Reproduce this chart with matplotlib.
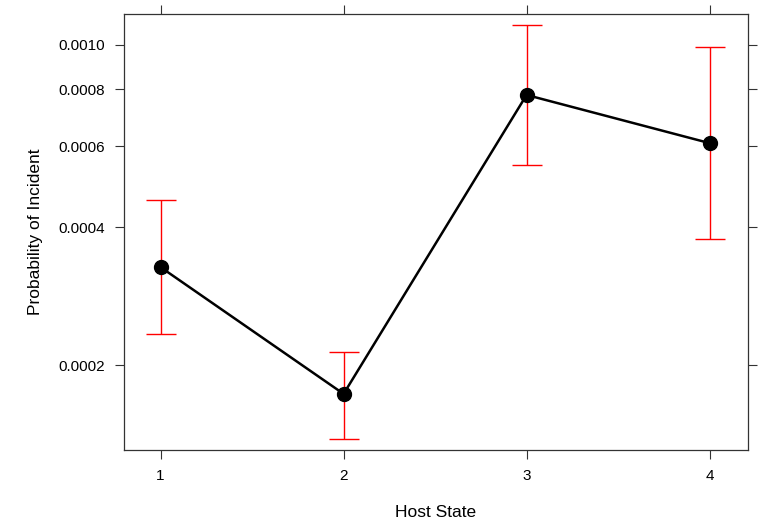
import numpy as np
import matplotlib.pyplot as plt
from matplotlib.ticker import FixedLocator, FixedFormatter, NullLocator

plt.rcParams['font.family'] = ['Liberation Sans', 'DejaVu Sans']

# ── Data ─────────────────────────────────────────────────────────────────────
host_state = [1, 2, 3, 4]
prob       = [0.000327, 0.000173, 0.000777, 0.000610]
upper      = [0.000458, 0.000213, 0.001104, 0.000989]
lower      = [0.000234, 0.000138, 0.000546, 0.000377]
y_ticks    = [0.0002, 0.0004, 0.0006, 0.0008, 0.0010]
y_labels   = ["0.0002", "0.0004", "0.0006", "0.0008", "0.0010"]

prob = np.array(prob)
yerr = [prob - np.array(lower), np.array(upper) - prob]

fig = plt.figure(figsize=(7.58, 5.21), dpi=100)
ax = fig.add_axes([0.1636, 0.1363, 0.8232, 0.8368])

ax.errorbar(host_state, prob, yerr=yerr, fmt="none", ecolor="#ff0000",
            elinewidth=1.0, capsize=11, capthick=1.0, zorder=2)
ax.plot(host_state, prob, color="black", lw=1.8, marker="o", ms=10,
        markeredgecolor="black", markerfacecolor="black", zorder=3)

ax.set_yscale("log")
ax.set_xlim(0.8, 4.21)
ax.set_ylim(0.0001305, 0.001167)

ax.yaxis.set_major_locator(FixedLocator(y_ticks))
ax.yaxis.set_major_formatter(FixedFormatter(y_labels))
ax.yaxis.set_minor_locator(NullLocator())
ax.set_xticks(host_state)
ax.set_xticklabels([str(h) for h in host_state])

ax.tick_params(axis="both", direction="out", length=6.5, width=0.8,
               colors="#333333", labelcolor="black", labelsize=11,
               top=True, right=True, labeltop=False, labelright=False, pad=7)
for s in ax.spines.values():
    s.set_color("#333333")
    s.set_linewidth(0.9)

ax.set_xlabel("Host State", fontsize=12.5, labelpad=16)
ax.set_ylabel("Probability of Incident", fontsize=12.5, labelpad=11)

fig.savefig("out.png", dpi=100)
